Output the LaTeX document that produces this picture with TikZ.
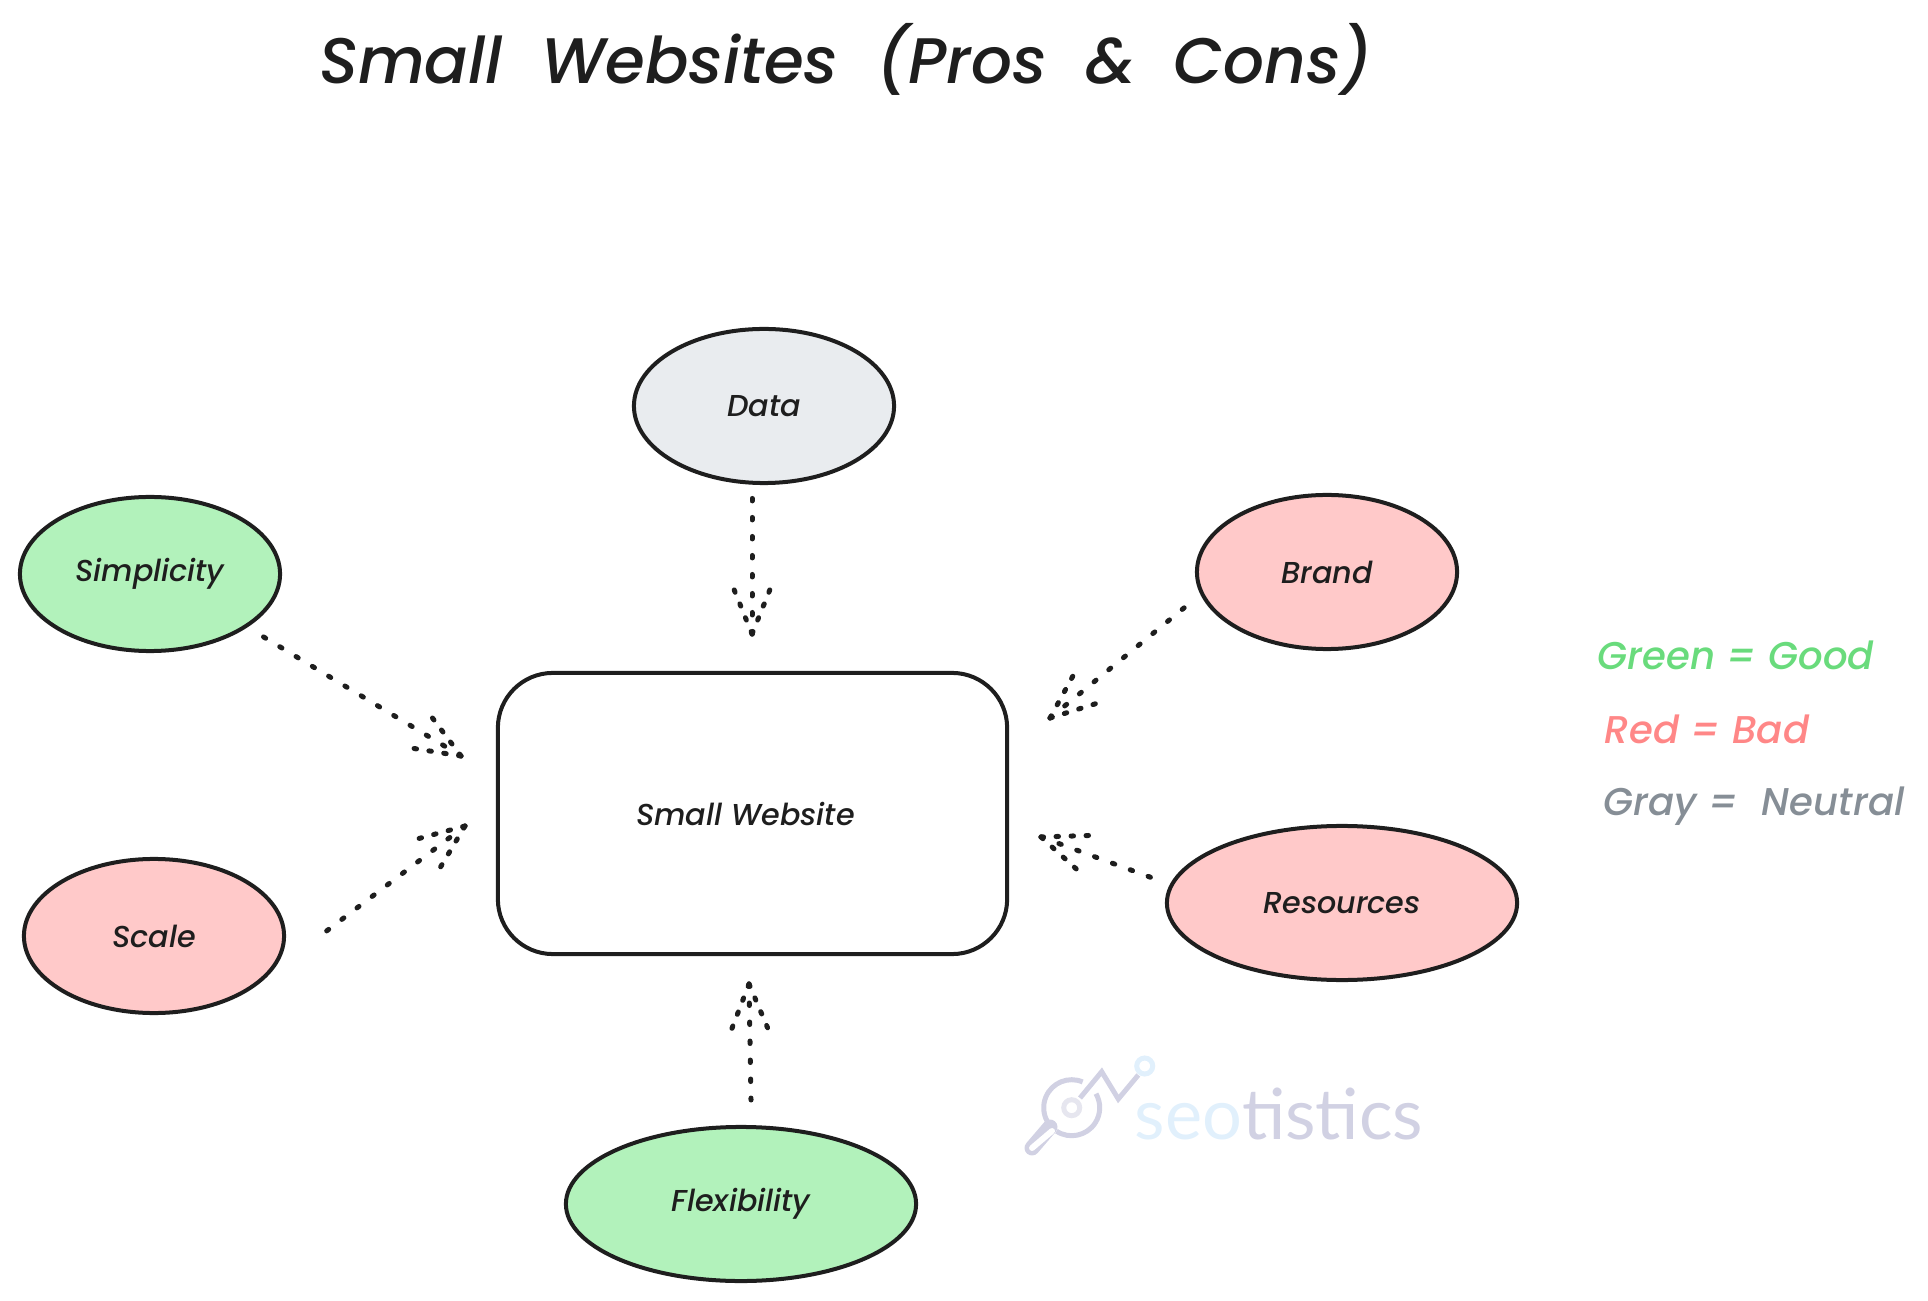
\documentclass[tikz,border=0pt]{standalone}
\usepackage{fontspec}
\setmainfont{Poppins}[ItalicFont={Poppins Medium Italic}]
\newfontfamily\logofont{Lato}
\usetikzlibrary{shapes.geometric, calc}
\definecolor{inkblack}{HTML}{1E1E1E}
\definecolor{goodfill}{HTML}{B2F2BB}
\definecolor{badfill}{HTML}{FFC9C9}
\definecolor{neutralfill}{HTML}{E9ECEF}
\definecolor{goodtext}{HTML}{69DB7C}
\definecolor{badtext}{HTML}{FF8787}
\definecolor{neutraltext}{HTML}{868E96}
\definecolor{logoblue}{HTML}{E1F0FC}
\definecolor{logogray}{HTML}{D1D1E3}
\definecolor{logopale}{HTML}{E6E6EF}
\tikzset{
    factor/.style={ellipse, draw=inkblack, line width=0.04cm, inner sep=0pt, text=inkblack, font=\itshape\fontsize{8.6}{10}\selectfont},
    small/.style={factor, minimum width=2.6cm, minimum height=1.54cm},
    wide/.style={factor, minimum width=3.5cm, minimum height=1.54cm},
    legend/.style={anchor=west, inner sep=0pt, font=\itshape\fontsize{11}{13}\selectfont},
    shaftdots/.style={draw=inkblack, line width=0.05cm, line cap=round, dash pattern=on 0.025cm off 0.165cm},
    headdots/.style={draw=inkblack, line width=0.05cm, line cap=round, dash pattern=on 0.025cm off 0.125cm},
    logoline/.style={draw=logogray, line width=0.05cm},
}
\newcommand{\dotarrow}[2]{
    \draw[shaftdots] (#2) -- (#1);
    \draw[headdots] (#2) -- ($(#2)!0.48cm!22:(#1)$);
    \draw[headdots] (#2) -- ($(#2)!0.48cm!-22:(#1)$);
}

\begin{document}
\begin{tikzpicture}[x=0.01cm, y=-0.01cm]
    \useasboundingbox (0,0) rectangle (1928,1301);

    \node[text=inkblack, font=\itshape\fontsize{18.3}{22}\selectfont] (title) at (846,59) {Small\ \ Websites\ \ (Pros\ \ \&\ \ Cons)};

    \node[draw=inkblack, line width=0.04cm, rounded corners=0.55cm, minimum width=5.09cm, minimum height=2.81cm, text=inkblack, font=\itshape\fontsize{8.6}{10}\selectfont] (site) at (752.5,813.5) {\hspace*{-0.14cm}Small Website};

    \node[small, fill=neutralfill] (data) at (764,406) {Data};
    \node[small, fill=goodfill] (simplicity) at (150,574) {Simplicity};
    \node[small, fill=badfill] (brand) at (1327,572) {Brand};
    \node[small, fill=badfill] (scale) at (154,936) {Scale};
    \node[wide, fill=badfill] (resources) at (1342,903) {Resources};
    \node[wide, fill=goodfill] (flexibility) at (741,1204) {Flexibility};

    % arrows stop short of the shapes
    \coordinate (dataout) at (752,498);
    \coordinate (datain) at (752,634);
    \coordinate (simplicityout) at (262,636);
    \coordinate (simplicityin) at (461,756);
    \coordinate (brandout) at (1190,603);
    \coordinate (brandin) at (1050,718);
    \coordinate (scaleout) at (316,939);
    \coordinate (scalein) at (465,826);
    \coordinate (resourcesout) at (1158,880);
    \coordinate (resourcesin) at (1041,837);
    \coordinate (flexibilityout) at (751,1100);
    \coordinate (flexibilityin) at (749,984);

    \dotarrow{dataout}{datain}
    \dotarrow{simplicityout}{simplicityin}
    \dotarrow{brandout}{brandin}
    \dotarrow{scaleout}{scalein}
    \dotarrow{resourcesout}{resourcesin}
    \dotarrow{flexibilityout}{flexibilityin}

    \node[legend, text=goodtext] (good) at (1597,655) {Green = Good};
    \node[legend, text=badtext] (bad) at (1604,729) {Red = Bad};
    \node[legend, text=neutraltext] (neutral) at (1603,806) {Gray\ =\ \ Neutral};

    % logo
    \draw[logoline] (1071.7,1107.7) ++(-67:28) arc[start angle=-67, end angle=-209, radius=28];
    \draw[logoline] (1071.7,1107.7) ++(-237:28) arc[start angle=-237, end angle=-390, radius=28];
    \draw[draw=logogray, line width=0.15cm, line cap=round] (1050,1127) -- (1032,1148);
    \draw[draw=white, line width=0.06cm, line cap=round] (1052,1131) -- (1032,1148);
    \draw[logoline] (1080,1098) -- (1101.7,1071.7) -- (1118.3,1099) -- (1138.3,1075);
    \draw[draw=logopale, line width=0.05cm] (1071.7,1107.7) circle (8);
    \draw[draw=logoblue, line width=0.05cm] (1144.7,1066) circle (8);
    \node[font=\logofont\fontsize{20}{24}\selectfont, inner sep=0pt, anchor=base west] (logotext) at (1134,1139) {\textcolor{logoblue}{seo}\textcolor{logogray}{tistics}};
\end{tikzpicture}
\end{document}
